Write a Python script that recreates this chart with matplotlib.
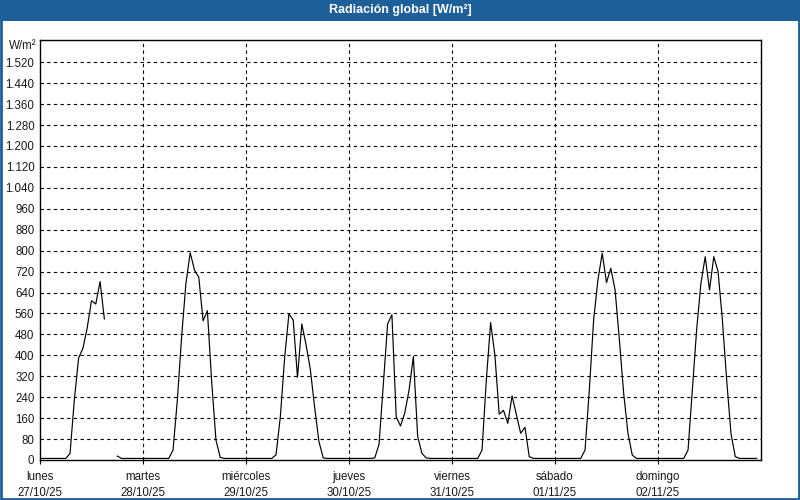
import numpy as np
import matplotlib
matplotlib.use("Agg")
import matplotlib.pyplot as plt
from matplotlib.patches import Rectangle

plt.rcParams['font.family'] = ['Liberation Sans', 'DejaVu Sans']

nan = np.nan
# Hourly global radiation (W/m²), one list per day (24 values)
day1 = [6, 6, 6, 6, 6, 6, 6, 25, 230, 390, 427, 505, 609, 596, 682, 539, nan, nan, 15, 6, 6, 6, 6, 6]
day2 = [6, 6, 6, 6, 6, 6, 6, 38, 229, 471, 675, 792, 726, 698, 532, 571, 300, 76, 10, 6, 6, 6, 6, 6]
day3 = [6, 6, 6, 6, 6, 6, 6, 20, 165, 390, 558, 535, 316, 520, 440, 345, 200, 70, 8, 6, 6, 6, 6, 6]
day4 = [6, 6, 6, 6, 6, 6, 8, 60, 290, 520, 555, 165, 130, 180, 268, 395, 90, 25, 8, 6, 6, 6, 6, 6]
day5 = [6, 6, 6, 6, 6, 6, 6, 38, 306, 525, 400, 175, 190, 140, 245, 173, 102, 125, 13, 6, 6, 6, 6, 6]
day6 = [6, 6, 6, 6, 6, 6, 6, 38, 268, 535, 688, 790, 678, 733, 650, 459, 255, 102, 19, 6, 6, 6, 6, 6]
day7 = [6, 6, 6, 6, 6, 6, 6, 38, 268, 497, 675, 777, 650, 777, 720, 535, 306, 102, 13, 6, 6, 6, 6, 6]

day_names = ["lunes", "martes", "miércoles", "jueves", "viernes", "sábado", "domingo"]
day_dates = ["27/10/25", "28/10/25", "29/10/25", "30/10/25", "31/10/25", "01/11/25", "02/11/25"]
y_ticks = list(range(0, 1521, 80))
y_labels = [f"{v:,}".replace(",", ".") for v in y_ticks]

values = np.array(day1 + day2 + day3 + day4 + day5 + day6 + day7, dtype=float)
hours = np.arange(len(values))

fig = plt.figure(figsize=(8, 5), dpi=100)
fig.patch.set_facecolor("white")

blue = "#1d5f98"
# title bar
fig.patches.append(Rectangle((0, 1 - 21 / 500), 1, 21 / 500, transform=fig.transFigure,
                             facecolor=blue, edgecolor="none", zorder=0))
# outer border
fig.patches.append(Rectangle((0.001, 0.002), 0.998, 0.996, transform=fig.transFigure,
                             facecolor="none", edgecolor=blue, linewidth=2, zorder=5))
fig.text(0.5, 1 - 10.5 / 500, "Radiación global [W/m²]", color="white", fontweight="bold",
         fontsize=9, ha="center", va="center")

ax = fig.add_axes([40 / 800, 40 / 500, 721 / 800, 420 / 500])
ax.plot(hours, values, color="black", linewidth=0.85)

ax.set_xlim(0, 168)
ax.set_ylim(0, 1605)

day_pos = [24 * i for i in range(7)]
ax.set_xticks(day_pos)
ax.set_xticklabels([f"{n}\n{d}" for n, d in zip(day_names, day_dates)], fontsize=8.3, linespacing=1.45)
ax.set_yticks(y_ticks)
ax.set_yticklabels(y_labels, fontsize=8.3)

ax.tick_params(axis="x", length=3, width=0.8, pad=5, colors="black")
ax.tick_params(axis="y", length=0, pad=4, colors="black")
for lbl in ax.get_xticklabels() + ax.get_yticklabels():
    lbl.set_color("#1a1a1a")

# dashed grid lines
for yv in y_ticks[1:]:
    ax.axhline(yv, color="black", linewidth=0.8, linestyle=(0, (3, 3)), zorder=0)
for xv in day_pos[1:]:
    ax.axvline(xv, color="black", linewidth=0.8, linestyle=(0, (3, 3)), zorder=0)

for s in ax.spines.values():
    s.set_linewidth(1.0)
    s.set_color("black")

ax.text(-0.005, 1583, "W/m²", transform=ax.get_yaxis_transform(), ha="right", va="center",
        fontsize=8.3, color="#1a1a1a")

fig.savefig("out.png", dpi=100)
